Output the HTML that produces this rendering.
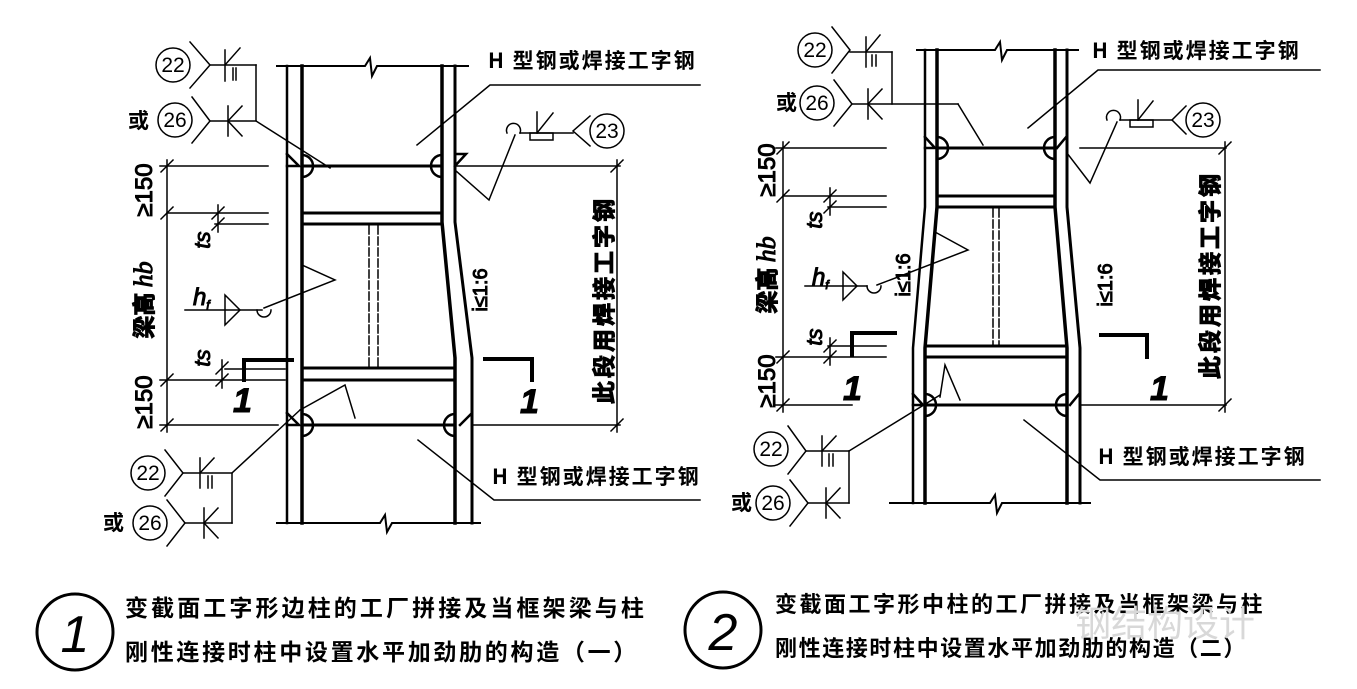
<!DOCTYPE html>
<html><head><meta charset="utf-8"><style>
html,body{margin:0;padding:0;background:#fff;}
svg{display:block;}
text{font-family:"Liberation Sans","Noto Sans CJK SC",sans-serif;fill:#000;}
.cjk{font-family:"Noto Sans CJK SC","WenQuanYi Zen Hei",sans-serif;font-weight:bold;}
.num{font-family:"Liberation Sans Narrow","Liberation Sans",sans-serif;}
</style></head><body>
<svg width="1357" height="689" viewBox="0 0 1357 689" xmlns="http://www.w3.org/2000/svg" stroke="#000" fill="none" stroke-linecap="square">
<!-- ================= LEFT DIAGRAM ================= -->
<g>
<path d="M277 66 H365 L370 58 L372 76 L377 66 H468" stroke-width="2"/>
<path d="M277 523 H380 L385 515 L387 532 L392 523 H480" stroke-width="2"/>
<line x1="287" y1="66" x2="287" y2="523" stroke-width="2.5"/>
<line x1="302" y1="66" x2="302" y2="523" stroke-width="3.5"/>
<path d="M442 66 V222 L455 358 V523" stroke-width="3.5"/>
<path d="M455 66 V222 L472 358 V523" stroke-width="3"/>
<line x1="302" y1="166" x2="442" y2="166" stroke-width="3"/>
<line x1="302" y1="425" x2="455" y2="425" stroke-width="3"/>
<line x1="455" y1="166" x2="620" y2="166" stroke-width="1.5"/>
<line x1="472" y1="425" x2="620" y2="425" stroke-width="1.5"/>
<line x1="302" y1="213" x2="442" y2="213" stroke-width="3"/>
<line x1="302" y1="224" x2="442" y2="224" stroke-width="3"/>
<line x1="302" y1="368" x2="455" y2="368" stroke-width="3"/>
<line x1="302" y1="380" x2="455" y2="380" stroke-width="3"/>
<line x1="369" y1="226" x2="369" y2="366" stroke-width="1.5" stroke-dasharray="8,3"/>
<line x1="378" y1="226" x2="378" y2="366" stroke-width="1.5" stroke-dasharray="8,3"/>
<g stroke-width="2.5">
<path d="M302 155 A11 11 0 0 1 302 177"/><path d="M287 154 L299 166 L287 166"/>
<path d="M442 155 A11 11 0 0 0 442 177"/><path d="M455 166 L466 154 L455 154"/>
<path d="M302 414 A11 11 0 0 1 302 436"/><path d="M287 413 L299 425 L287 425"/>
<path d="M455 414 A11 11 0 0 0 455 436"/><path d="M472 425 L472 413 L460 425"/>
</g>
<g stroke-width="1.5">
<line x1="167" y1="160" x2="167" y2="432"/>
<line x1="160" y1="166" x2="268" y2="166"/>
<line x1="167" y1="213" x2="268" y2="213"/>
<line x1="215" y1="224" x2="268" y2="224"/>
<line x1="225" y1="369" x2="285" y2="369"/>
<line x1="160" y1="380" x2="285" y2="380"/>
<line x1="160" y1="425" x2="278" y2="425"/>
<line x1="161" y1="172" x2="173" y2="160"/><line x1="161" y1="219" x2="173" y2="207"/>
<line x1="161" y1="386" x2="173" y2="374"/><line x1="161" y1="431" x2="173" y2="419"/>
<line x1="218" y1="205" x2="218" y2="232"/><line x1="212" y1="219" x2="224" y2="207"/><line x1="212" y1="230" x2="224" y2="218"/>
<line x1="222" y1="360" x2="222" y2="388"/><line x1="216" y1="374" x2="228" y2="362"/><line x1="216" y1="386" x2="228" y2="374"/>
<line x1="617" y1="160" x2="617" y2="432"/>
<line x1="611" y1="172" x2="623" y2="160"/><line x1="611" y1="431" x2="623" y2="419"/>
</g>
<text transform="translate(152,190) rotate(-90)" font-size="24" text-anchor="middle">≥150</text>
<text transform="translate(152,402) rotate(-90)" font-size="24" text-anchor="middle">≥150</text>
<text class="cjk" transform="translate(152,300) rotate(-90)" font-size="23" text-anchor="middle">梁高 <tspan font-style="italic" font-family="Liberation Serif" font-weight="normal" font-size="26">hb</tspan></text>
<text transform="translate(210,240) rotate(-90)" font-size="22" font-style="italic" text-anchor="middle">ts</text>
<text transform="translate(210,358) rotate(-90)" font-size="22" font-style="italic" text-anchor="middle">ts</text>
<text x="193" y="305" font-size="24" font-style="italic" font-family="Liberation Serif">h<tspan font-size="12" dy="4">f</tspan></text>
<g stroke-width="1.5">
<line x1="185" y1="310" x2="262" y2="310"/>
<path d="M225 295 L240 310 L225 325 Z"/>
<path d="M257 310 A7 7 0 0 0 271 310"/>
<path d="M264 308 L335 280 L302 265"/>
<path d="M300 410 L345 385 L355 418"/>
</g>
<path d="M292 360 H244 V380" stroke-width="4"/>
<path d="M485 359 H532 V380" stroke-width="4"/>
<text x="233" y="412" font-size="34" font-style="italic" font-weight="bold">1</text>
<text x="520" y="413" font-size="34" font-style="italic" font-weight="bold">1</text>
<text transform="translate(487,290) rotate(-90)" font-size="20" text-anchor="middle">i≤1:6</text>
<text class="cjk" transform="translate(612,300) rotate(-90)" font-size="23" text-anchor="middle" letter-spacing="3">此段用焊接工字钢</text>
<g stroke-width="1.5">
<circle cx="173" cy="65" r="17"/><path d="M190 42 L210 65 L190 88"/><line x1="210" y1="65" x2="256" y2="65"/>
<line x1="225" y1="50" x2="225" y2="81"/><line x1="225" y1="65" x2="240" y2="48"/><line x1="233" y1="68" x2="233" y2="80"/><line x1="236" y1="68" x2="236" y2="80"/>
<circle cx="175" cy="120" r="17"/><path d="M192 97 L210 121 L192 143"/><line x1="210" y1="121" x2="256" y2="121"/>
<line x1="228" y1="106" x2="228" y2="136"/><line x1="228" y1="121" x2="242" y2="106"/><line x1="228" y1="121" x2="242" y2="136"/>
<path d="M256 65 V121 L330 168"/>
<circle cx="148" cy="473" r="17"/><path d="M165 450 L183 473 L165 496"/><line x1="183" y1="473" x2="232" y2="473"/>
<line x1="200" y1="458" x2="200" y2="488"/><line x1="200" y1="473" x2="214" y2="458"/><line x1="208" y1="476" x2="208" y2="488"/><line x1="212" y1="476" x2="212" y2="488"/>
<circle cx="150" cy="523" r="17"/><path d="M167 500 L185 523 L167 546"/><line x1="185" y1="523" x2="232" y2="523"/>
<line x1="204" y1="508" x2="204" y2="538"/><line x1="204" y1="523" x2="218" y2="508"/><line x1="204" y1="523" x2="218" y2="538"/>
<path d="M300 410 L232 473 V523"/>
<circle cx="607" cy="131" r="17"/><path d="M590 116 L573 131 L590 146"/><line x1="520" y1="133" x2="573" y2="133"/>
<rect x="530" y="133" width="23" height="7"/><line x1="537" y1="112" x2="537" y2="133"/><line x1="537" y1="133" x2="553" y2="113"/>
<path d="M507 133 A7 7 0 1 1 520 133"/>
<path d="M515 135 L489 200 L455 170"/>
<path d="M700 85 H490 L417 145"/>
<path d="M700 500 H494 L418 440"/>
</g>
<g class="num" font-size="21" text-anchor="middle" stroke="none">
<text x="173" y="72">22</text><text x="175" y="127">26</text>
<text x="148" y="480">22</text><text x="150" y="530">26</text>
<text x="607" y="138">23</text>
</g>
<text class="cjk" x="128" y="128" font-size="21" stroke="none">或</text>
<text class="cjk" x="103" y="530" font-size="21" stroke="none">或</text>
<text class="cjk" x="488" y="68" font-size="21" letter-spacing="2" stroke="none">H 型钢或焊接工字钢</text>
<text class="cjk" x="492" y="484" font-size="21" letter-spacing="2" stroke="none">H 型钢或焊接工字钢</text>
</g>

<!-- ================= RIGHT DIAGRAM ================= -->
<g>
<path d="M917 50 H995 L1000 42 L1002 60 L1007 50 H1078" stroke-width="2"/>
<path d="M890 503 H990 L995 495 L997 513 L1002 503 H1090" stroke-width="2"/>
<path d="M925 50 V207 L913 348 V503" stroke-width="2.5"/>
<path d="M937 50 V207 L925 348 V503" stroke-width="3.5"/>
<path d="M1055 50 V207 L1067 348 V503" stroke-width="3.5"/>
<path d="M1067 50 V207 L1080 348 V503" stroke-width="3"/>
<line x1="937" y1="148" x2="1055" y2="148" stroke-width="3"/>
<line x1="925" y1="405" x2="1067" y2="405" stroke-width="3"/>
<line x1="1080" y1="148" x2="1226" y2="148" stroke-width="1.5"/>
<line x1="1080" y1="405" x2="1226" y2="405" stroke-width="1.5"/>
<line x1="937" y1="196" x2="1055" y2="196" stroke-width="3"/>
<line x1="937" y1="207" x2="1055" y2="207" stroke-width="3"/>
<line x1="926" y1="346" x2="1066" y2="346" stroke-width="3"/>
<line x1="925" y1="357" x2="1067" y2="357" stroke-width="3"/>
<line x1="993" y1="209" x2="993" y2="344" stroke-width="1.5" stroke-dasharray="8,3"/>
<line x1="999" y1="209" x2="999" y2="344" stroke-width="1.5" stroke-dasharray="8,3"/>
<g stroke-width="2.5">
<path d="M937 137 A11 11 0 0 1 937 159"/><path d="M925 137 L935 148 L925 148"/>
<path d="M1055 137 A11 11 0 0 0 1055 159"/><path d="M1067 148 L1067 136 L1057 148"/>
<path d="M925 394 A11 11 0 0 1 925 416"/><path d="M913 394 L923 405 L913 405"/>
<path d="M1067 394 A11 11 0 0 0 1067 416"/><path d="M1080 405 L1080 393 L1070 405"/>
</g>
<g stroke-width="1.5">
<line x1="783" y1="142" x2="783" y2="412"/>
<line x1="776" y1="148" x2="886" y2="148"/>
<line x1="783" y1="196" x2="886" y2="196"/>
<line x1="828" y1="207" x2="886" y2="207"/>
<line x1="828" y1="346" x2="886" y2="346"/>
<line x1="776" y1="357" x2="886" y2="357"/>
<line x1="776" y1="405" x2="852" y2="405"/>
<line x1="777" y1="154" x2="789" y2="142"/><line x1="777" y1="202" x2="789" y2="190"/>
<line x1="777" y1="363" x2="789" y2="351"/><line x1="777" y1="411" x2="789" y2="399"/>
<line x1="830" y1="188" x2="830" y2="215"/><line x1="824" y1="202" x2="836" y2="190"/><line x1="824" y1="213" x2="836" y2="201"/>
<line x1="830" y1="338" x2="830" y2="365"/><line x1="824" y1="352" x2="836" y2="340"/><line x1="824" y1="363" x2="836" y2="351"/>
<line x1="1225" y1="142" x2="1225" y2="412"/>
<line x1="1219" y1="154" x2="1231" y2="142"/><line x1="1219" y1="411" x2="1231" y2="399"/>
</g>
<text transform="translate(775,170) rotate(-90)" font-size="24" text-anchor="middle">≥150</text>
<text transform="translate(775,381) rotate(-90)" font-size="24" text-anchor="middle">≥150</text>
<text class="cjk" transform="translate(775,275) rotate(-90)" font-size="23" text-anchor="middle">梁高 <tspan font-style="italic" font-family="Liberation Serif" font-weight="normal" font-size="26">hb</tspan></text>
<text transform="translate(822,220) rotate(-90)" font-size="22" font-style="italic" text-anchor="middle">ts</text>
<text transform="translate(822,337) rotate(-90)" font-size="22" font-style="italic" text-anchor="middle">ts</text>
<text x="812" y="285" font-size="24" font-style="italic" font-family="Liberation Serif">h<tspan font-size="12" dy="4">f</tspan></text>
<g stroke-width="1.5">
<line x1="805" y1="286" x2="867" y2="286"/>
<path d="M843 272 L857 286 L843 300 Z"/>
<path d="M867 286 A7 7 0 0 0 881 286"/>
<path d="M877 285 L968 250 L935 232"/>
<path d="M940 397 L945 365 L960 400"/>
</g>
<path d="M895 333 H852 V355" stroke-width="4"/>
<path d="M1101 335 H1147 V357" stroke-width="4"/>
<text x="843" y="400" font-size="34" font-style="italic" font-weight="bold">1</text>
<text x="1150" y="400" font-size="34" font-style="italic" font-weight="bold">1</text>
<text transform="translate(910,275) rotate(-90)" font-size="20" text-anchor="middle">i≤1:6</text>
<text transform="translate(1112,285) rotate(-90)" font-size="20" text-anchor="middle">i≤1:6</text>
<text class="cjk" transform="translate(1218,275) rotate(-90)" font-size="23" text-anchor="middle" letter-spacing="3">此段用焊接工字钢</text>
<g stroke-width="1.5">
<circle cx="815" cy="50" r="17"/><path d="M832 27 L850 50 L832 73"/><line x1="850" y1="52" x2="892" y2="52"/>
<line x1="866" y1="37" x2="866" y2="67"/><line x1="866" y1="52" x2="880" y2="35"/><line x1="872" y1="55" x2="872" y2="66"/><line x1="876" y1="55" x2="876" y2="66"/>
<circle cx="817" cy="103" r="17"/><path d="M834 80 L852 104 L834 126"/><line x1="852" y1="104" x2="958" y2="104"/>
<line x1="868" y1="89" x2="868" y2="119"/><line x1="868" y1="104" x2="882" y2="89"/><line x1="868" y1="104" x2="882" y2="119"/>
<path d="M892 52 V104"/><path d="M958 104 L983 145"/>
<circle cx="771" cy="449" r="17"/><path d="M788 426 L806 451 L788 474"/><line x1="806" y1="451" x2="849" y2="451"/>
<line x1="822" y1="436" x2="822" y2="466"/><line x1="822" y1="451" x2="836" y2="436"/><line x1="829" y1="454" x2="829" y2="466"/><line x1="833" y1="454" x2="833" y2="466"/>
<circle cx="773" cy="503" r="17"/><path d="M790 480 L808 503 L790 526"/><line x1="808" y1="503" x2="849" y2="503"/>
<line x1="826" y1="488" x2="826" y2="518"/><line x1="826" y1="503" x2="840" y2="488"/><line x1="826" y1="503" x2="840" y2="518"/>
<path d="M849 451 V503"/><path d="M849 451 L940 395"/>
<circle cx="1203" cy="120" r="17"/><path d="M1186 106 L1172 120 L1186 134"/><line x1="1120" y1="120" x2="1172" y2="120"/>
<rect x="1130" y="120" width="23" height="7"/><line x1="1138" y1="100" x2="1138" y2="120"/><line x1="1138" y1="120" x2="1153" y2="101"/>
<path d="M1107 120 A7 7 0 1 1 1120 120"/>
<path d="M1117 122 L1090 183 L1067 153"/>
<path d="M1320 70 H1098 L1028 128"/>
<path d="M1320 480 H1100 L1024 420"/>
</g>
<g class="num" font-size="21" text-anchor="middle" stroke="none">
<text x="815" y="57">22</text><text x="817" y="110">26</text>
<text x="771" y="456">22</text><text x="773" y="510">26</text>
<text x="1203" y="127">23</text>
</g>
<text class="cjk" x="776" y="110" font-size="21" stroke="none">或</text>
<text class="cjk" x="731" y="510" font-size="21" stroke="none">或</text>
<text class="cjk" x="1092" y="58" font-size="21" letter-spacing="2" stroke="none">H 型钢或焊接工字钢</text>
<text class="cjk" x="1098" y="464" font-size="21" letter-spacing="2" stroke="none">H 型钢或焊接工字钢</text>
</g>

<!-- ================= CAPTIONS ================= -->
<circle cx="75" cy="632" r="38" stroke-width="3"/>
<text x="75" y="652" font-size="52" font-style="italic" text-anchor="middle" stroke="none">1</text>
<text class="cjk" x="125" y="616" font-size="23" letter-spacing="3.1" stroke="none">变截面工字形边柱的工厂拼接及当框架梁与柱</text>
<text class="cjk" x="125" y="660" font-size="23" letter-spacing="2.7" stroke="none">刚性连接时柱中设置水平加劲肋的构造（一）</text>
<circle cx="723" cy="630" r="38" stroke-width="3"/>
<text x="723" y="650" font-size="52" font-style="italic" text-anchor="middle" stroke="none">2</text>
<text class="cjk" x="775" y="612" font-size="22" letter-spacing="2.5" stroke="none">变截面工字形中柱的工厂拼接及当框架梁与柱</text>
<text class="cjk" x="775" y="656" font-size="22" letter-spacing="1.6" stroke="none">刚性连接时柱中设置水平加劲肋的构造（二）</text>
<text class="cjk" x="1075" y="636" font-size="36" stroke="none" style="fill:#d8d8d8;font-weight:normal">钢结构设计</text>
</svg>
</body></html>
